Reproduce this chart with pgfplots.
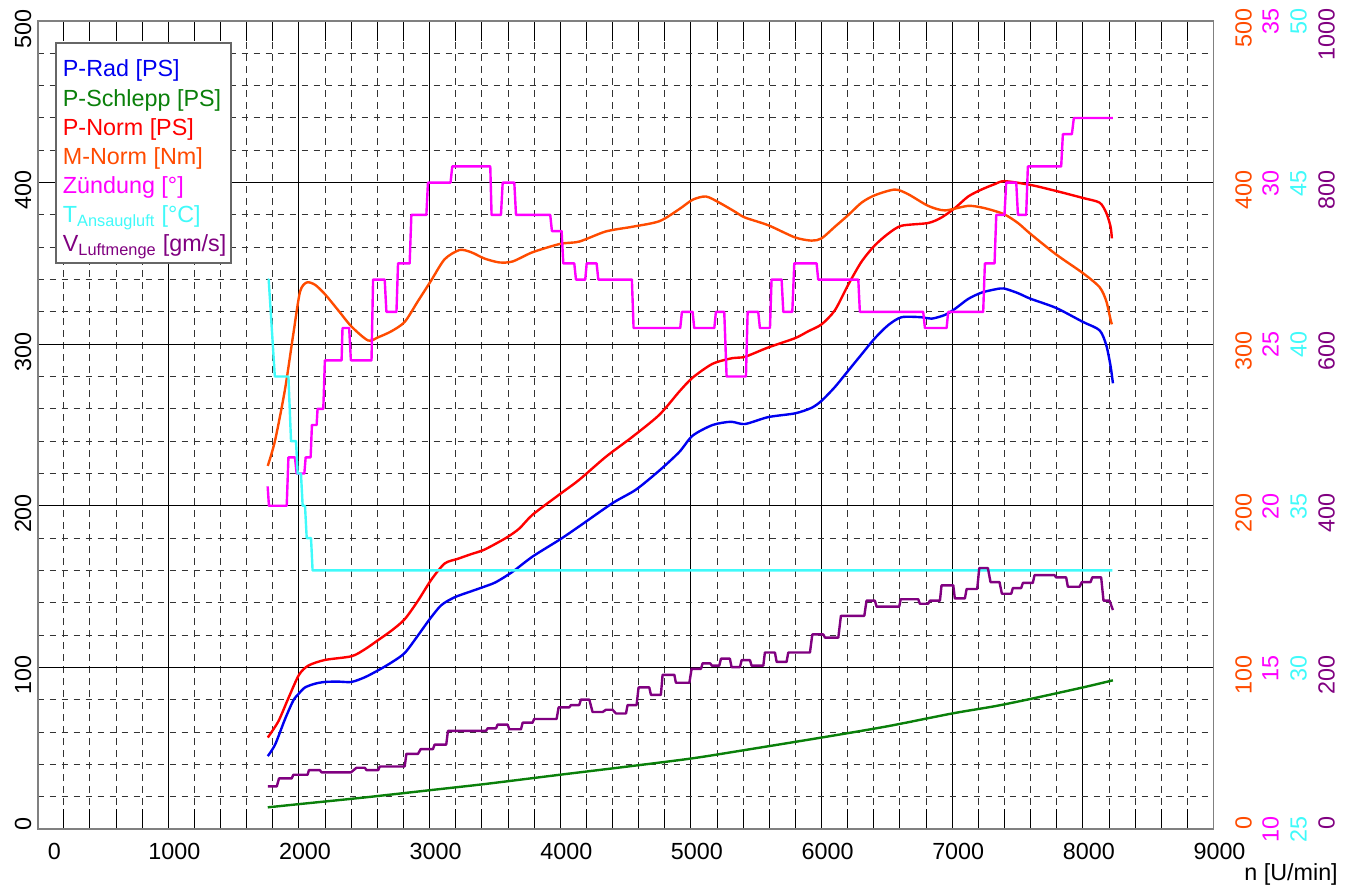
\documentclass[border=0pt]{standalone}
\usepackage{fontspec}
\setmainfont{Liberation Sans}
\usepackage{pgfplots}
\usepackage{pgfplotstable}
\pgfplotsset{compat=1.18}
\definecolor{cBlue}{RGB}{0,0,240}
\definecolor{cGreen}{RGB}{10,128,10}
\definecolor{cRed}{RGB}{255,0,0}
\definecolor{cOrange}{RGB}{255,75,0}
\definecolor{cMag}{RGB}{255,0,255}
\definecolor{cCyan}{RGB}{64,250,250}
\definecolor{cPurp}{RGB}{128,0,128}

\pgfplotstableread{
n P
1761 45.1
1817 52.2
1893 68
1957 79.6
2000 83.9
2046 87.6
2122 89.9
2198 91
2300 91.2
2402 91
2504 93.9
2606 98.2
2707 103
2809 108.9
2911 119.8
3000 129.8
3089 138.5
3191 143.4
3318 147.1
3420 150
3508 152.8
3635 159.2
3788 168.6
4000 179.3
4145 187.3
4401 201.7
4579 210
4758 221.8
4911 233.3
5013 243.4
5166 250
5306 252
5413 250.6
5592 254.9
5796 257.2
5923 260.6
6000 265
6102 273.5
6204 283.6
6306 293.7
6408 303.7
6510 311.8
6612 316.7
6765 316.7
6842 315.8
6944 318.1
7020 321.8
7122 328
7224 331.9
7327 333.9
7395 334.5
7503 331.6
7597 328.2
7796 322.4
8000 313.8
8128 308.6
8179 299.4
8212 286.5
8230 275.8
}\prad

\pgfplotstableread{
n P
1761 13.4
2000 15.4
2500 19.5
3000 24
3420 27.8
4000 33.6
4500 38.5
5000 43.6
5370 48.3
6000 56.6
6500 63.5
7000 71.5
7327 76
7600 80.5
8000 87.6
8230 92
}\pschlepp

\pgfplotstableread{
n P
1761 56.6
1842 66.6
1919 81
2000 95.4
2071 101.1
2198 104.6
2402 106.9
2504 111.2
2606 116.9
2707 122.7
2809 129.8
2911 141.3
3013 154.3
3115 164.3
3216 167.2
3318 170.1
3420 172.9
3584 180.1
3686 185.9
3788 194.5
4000 207.4
4145 216.1
4350 230.4
4554 242.8
4758 256.3
4911 270.7
5013 279.3
5166 287.9
5319 291.4
5413 292.2
5592 298
5796 303.7
5898 308
6000 312.3
6102 321
6204 336.8
6306 351.1
6408 361.2
6510 368.4
6612 373.3
6816 375
6918 378.4
7020 384.2
7122 391.4
7224 395.7
7327 399.1
7400 400.9
7597 398.6
7796 394.8
8000 390.5
8128 387.6
8179 381.3
8212 372.7
8222 365.5
}\pnorm

\pgfplotstableread{
n M
1761 224.7
1817 240.5
1893 272.1
1957 306.6
2008 332.5
2059 338.2
2122 336.8
2198 331
2300 321
2402 310.9
2529 302.3
2606 304.3
2707 308
2809 313.8
2911 326.7
3013 339.6
3115 352.6
3229 358.3
3318 356.9
3420 353
3533 350.6
3635 351.2
3788 356.9
4000 362.1
4145 363.5
4350 369.8
4554 372.7
4758 376.1
4911 383.6
5013 389.4
5115 391.4
5217 387.6
5337 382
5413 378.4
5592 373.6
5796 366.1
5923 364.1
6000 365.5
6102 372.7
6204 379.9
6306 387.6
6408 392.2
6561 395.7
6663 392.8
6816 385.6
6944 382.8
7122 385.6
7247 384.2
7395 380.5
7503 375
7597 368.4
7796 355.5
8000 344
8128 335.3
8179 326.7
8212 315.2
8222 312.3
}\mnorm

\pgfplotstableread{
n Z
1760 20.6
1770 20
1906 20
1919 21.5
1969 21.5
1982 21
2041 21
2051 21.5
2089 21.5
2099 22.5
2135 22.5
2142 23
2186 23
2198 24.5
2326 24.5
2333 25.5
2384 25.5
2397 24.5
2555 24.5
2567 27
2656 27
2669 26
2746 26
2758 27.5
2847 27.5
2860 29
2975 29
2987 30
3160 30
3173 30.5
3464 30.5
3474 29
3546 29
3559 30
3648 30
3661 29
3923 29
3936 28.5
4010 28.5
4023 27.5
4107 27.5
4120 27
4191 27
4202 27.5
4278 27.5
4291 27
4548 27
4561 25.5
4918 25.5
4931 26
5013 26
5025 25.5
5179 25.5
5191 26
5255 26
5273 24
5421 24
5434 26
5515 26
5528 25.5
5605 25.5
5617 27
5694 27
5707 26
5776 26
5791 27.5
5962 27.5
5974 27
6281 27
6293 26
6778 26
6791 25.5
6957 25.5
6969 26
7237 26
7250 27.5
7324 27.5
7337 29
7400 29
7413 30
7490 30
7503 29
7566 29
7579 30.5
7834 30.5
7847 31.5
7916 31.5
7931 32
8230 32
}\zuend

\pgfplotstableread{
n T
1760 42
1768 42
1815 39
1919 39
1939 37
1977 37
1990 36
2015 36
2028 35
2046 35
2059 34
2092 34
2104 33
8225 33
}\tans

\pgfplotstableread{
n V
1761 52.7
1830 52.7
1847 62.6
1944 62.6
1957 67.2
2066 67.2
2076 72.8
2160 72.8
2173 70
2397 70
2440 75.8
2504 75.8
2517 72.8
2606 72.8
2618 77.4
2809 77.4
2822 93
2911 93
2931 98.8
3025 98.8
3038 104.4
3127 104.4
3140 121.4
3431 121.4
3444 124.6
3508 124.6
3520 129.2
3597 129.2
3610 123.4
3699 123.4
3712 131.6
3788 131.6
3800 136.2
3972 136.2
3987 150.6
4069 150.6
4082 153.4
4145 153.4
4158 160.2
4222 160.2
4247 144.8
4324 144.8
4350 147.6
4400 147.6
4426 143
4503 143
4515 153.4
4584 153.4
4599 175.2
4681 175.2
4694 166
4770 166
4783 190.8
4873 190.8
4885 181
4988 181
5005 198.2
5077 198.2
5089 205
5148 205
5160 202.2
5217 202.2
5230 210.8
5298 210.8
5311 200.4
5375 200.4
5388 209
5452 209
5464 202.2
5554 202.2
5566 218.4
5643 218.4
5656 206.8
5732 206.8
5745 218.4
5911 218.4
5929 240.8
6013 240.8
6026 236.8
6128 236.8
6148 263.8
6327 263.8
6344 282.6
6408 282.6
6421 275.2
6594 275.2
6606 284.4
6740 284.4
6752 278.8
6816 278.8
6829 282.6
6906 282.6
6918 301.6
7008 301.6
7020 285.4
7097 285.4
7110 297
7191 297
7207 323
7273 323
7293 305.6
7362 305.6
7380 291.2
7452 291.2
7464 298.2
7528 298.2
7541 304.6
7617 304.6
7630 314.2
7783 314.2
7795 311.4
7872 311.4
7885 299.8
7975 299.8
7992 305.6
8059 305.6
8072 311.4
8140 311.4
8158 282.6
8204 282.6
8230 271
}\vluft

\pgfplotsset{
  geom/.style={at={(28.28pt,45pt)}, anchor=south west, scale only axis,
    width=881.85pt, height=606pt, xmin=0, xmax=9000},
  rightax/.style 2 args={geom, hide x axis, axis y line*=right,
    axis line style={draw=none}, ytick style={draw=none},
    yticklabel style={xshift=#1, yshift=9.4pt, rotate=90, anchor=north east,
      inner sep=0pt, text=#2}},
  curve/.style={line width=1.8pt, line join=round},
  scurve/.style={curve, smooth, tension=0.45}
}

\begin{document}
\begin{tikzpicture}[font=\fontsize{17.5}{21}\selectfont]
\path[use as bounding box] (0,0) rectangle (1016.25pt,666.75pt);
\begin{axis}[geom,
  ymin=0, ymax=500,
  xtick={0,1000,...,9000},
  xticklabels={\hspace*{16pt}0,1000,2000,3000,4000,5000,6000,7000,8000,9000},
  ytick={0,100,...,500}, yticklabels={0,100,200,300,400,500},
  minor x tick num=4, minor y tick num=4,
  grid=both,
  major grid style={black, line width=0.75pt, solid},
  minor grid style={black!80, line width=0.75pt, dash pattern=on 5pt off 4pt},
  axis line style={black!50, line width=1.2pt},
  tick align=inside,
  xtick pos=both, xticklabel pos=lower, ytick pos=left,
  major tick length=15pt, minor tick length=15pt,
  xtick style={black, line width=0.75pt},
  minor x tick style={black, line width=0.75pt},
  ytick style={draw=none}, minor y tick style={draw=none},
  xticklabel style={yshift=-7pt, xshift=4.5pt},
  yticklabel style={xshift=-4.5pt, yshift=9pt, rotate=90, anchor=south east, inner sep=0pt},
]
\addplot[scurve, cBlue] table[x=n, y=P] {\prad};
\addplot[scurve, cGreen] table[x=n, y=P] {\pschlepp};
\addplot[scurve, cRed] table[x=n, y=P] {\pnorm};
\end{axis}
\begin{axis}[rightax={16.1pt}{cOrange}, ymin=0, ymax=500,
  ytick={0,100,...,500}, yticklabels={0,100,200,300,400,500}]
\addplot[scurve, cOrange] table[x=n, y=M] {\mnorm};
\end{axis}
\begin{axis}[rightax={36.4pt}{cMag}, ymin=10, ymax=35,
  ytick={10,15,...,35}, yticklabels={10,15,20,25,30,35}]
\addplot[curve, cMag] table[x=n, y=Z] {\zuend};
\end{axis}
\begin{axis}[rightax={57.4pt}{cCyan}, ymin=25, ymax=50,
  ytick={25,30,...,50}, yticklabels={25,30,35,40,45,50}]
\addplot[curve, cCyan] table[x=n, y=T] {\tans};
\end{axis}
\begin{axis}[rightax={78.4pt}{cPurp}, ymin=0, ymax=1000,
  ytick={0,200,...,1000}, yticklabels={0,200,400,600,800,1000}]
\addplot[curve, cPurp] table[x=n, y=V] {\vluft};
\end{axis}
% legend
\draw[black!60, line width=1pt, fill=white] (42pt,469.5pt) rectangle (173.25pt,634.5pt);
\node[anchor=base west, inner sep=0pt, text=cBlue] at (47pt,609pt) {P-Rad [PS]};
\node[anchor=base west, inner sep=0pt, text=cGreen] at (47pt,587pt) {P-Schlepp [PS]};
\node[anchor=base west, inner sep=0pt, text=cRed] at (47pt,565pt) {P-Norm [PS]};
\node[anchor=base west, inner sep=0pt, text=cOrange] at (47pt,543pt) {M-Norm [Nm]};
\node[anchor=base west, inner sep=0pt, text=cMag] at (47pt,521.25pt) {Zündung [°]};
\node[anchor=base west, inner sep=0pt, text=cCyan] at (47pt,499.5pt) {T\textsubscript{Ansaugluft} [°C]};
\node[anchor=base west, inner sep=0pt, text=cPurp] at (47pt,477.75pt) {V\textsubscript{Luftmenge} [gm/s]};
\node[anchor=base east, inner sep=0pt] at (1003.5pt,6.75pt) {n [U/min]};
\end{tikzpicture}
\end{document}
